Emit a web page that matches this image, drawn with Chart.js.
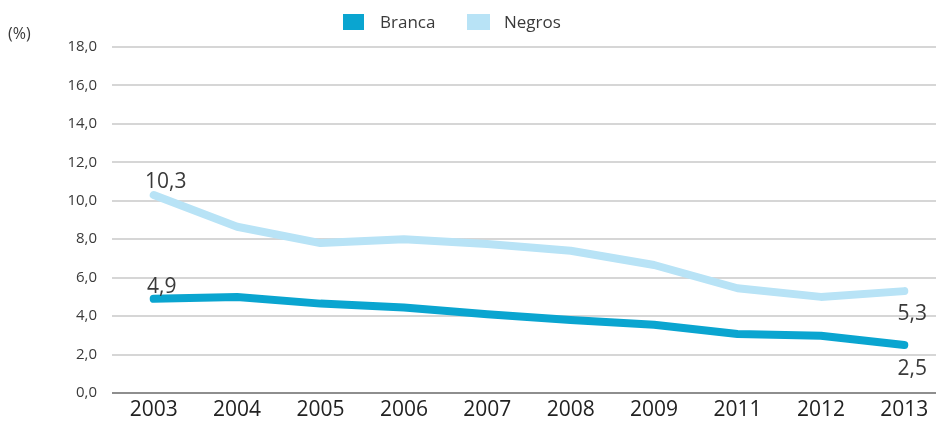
<!DOCTYPE html>
<html>
<head>
<meta charset="utf-8">
<script src="https://cdn.jsdelivr.net/npm/chart.js@4"></script>
<style>
  html, body { margin: 0; padding: 0; background: #fff; overflow: hidden; }
  #wrap { position: relative; width: 946px; height: 424px; }
</style>
</head>
<body>
<div id="wrap"><canvas id="grafico"></canvas></div>
<script>
// dados
const ANOS = ["2003", "2004", "2005", "2006", "2007", "2008", "2009", "2011", "2012", "2013"];
const BRANCA = [4.9, 5.0, 4.65, 4.45, 4.1, 3.8, 3.55, 3.07, 2.98, 2.5];
const NEGROS = [10.3, 8.65, 7.8, 8.0, 7.75, 7.4, 6.66, 5.45, 5.0, 5.3];
const Y_TICKS = [0, 2, 4, 6, 8, 10, 12, 14, 16, 18];

const AZUL = "#0aa5d0";
const CLARO = "#b8e3f6";
const TEXTO = "#3a3a3a";

const fmt = v => v.toFixed(1).replace(".", ",");

// rótulos só no primeiro e no último ponto
const rotulos = {
    id: "rotulos",
    afterDatasetsDraw(chart) {
        const ctx = chart.ctx;
        ctx.save();
        ctx.fillStyle = TEXTO;
        ctx.font = "21px 'Open Sans', sans-serif";
        ctx.textAlign = "center";
        ctx.textBaseline = "middle";
        const ult = ANOS.length - 1;
        const mb = chart.getDatasetMeta(0).data;
        const mn = chart.getDatasetMeta(1).data;
        ctx.fillText(fmt(NEGROS[0]), mn[0].x + 12, mn[0].y - 13);
        ctx.fillText(fmt(BRANCA[0]), mb[0].x + 8, mb[0].y - 12);
        ctx.fillText(fmt(NEGROS[ult]), mn[ult].x + 8, mn[ult].y + 23);
        ctx.fillText(fmt(BRANCA[ult]), mb[ult].x + 8, mb[ult].y + 24);
        ctx.restore();
    }
};

// legenda e "(%)" desenhados à mão
const extras = {
    id: "extras",
    afterDraw(chart) {
        const ctx = chart.ctx;
        ctx.save();
        ctx.textBaseline = "middle";
        ctx.textAlign = "left";
        ctx.font = "17px 'Open Sans', sans-serif";
        ctx.fillStyle = AZUL;
        ctx.fillRect(343, 14, 21, 16);
        ctx.fillStyle = CLARO;
        ctx.fillRect(467, 14, 23, 16);
        ctx.fillStyle = TEXTO;
        ctx.fillText("Branca", 380, 23);
        ctx.fillText("Negros", 504, 23);
        ctx.font = "16px 'Open Sans', sans-serif";
        ctx.fillText("(%)", 8, 34);
        ctx.restore();
    }
};

new Chart(document.getElementById("grafico"), {
    type: "line",
    data: {
        labels: ANOS,
        datasets: [
            { label: "Branca", data: BRANCA, borderColor: AZUL, backgroundColor: AZUL,
              borderWidth: 8, pointRadius: 0, borderCapStyle: "round", borderJoinStyle: "round" },
            { label: "Negros", data: NEGROS, borderColor: CLARO, backgroundColor: CLARO,
              borderWidth: 8, pointRadius: 0, borderCapStyle: "round", borderJoinStyle: "round" },
        ]
    },
    options: {
        responsive: true, maintainAspectRatio: false, animation: false,
        layout: { padding: { top: 47, left: 0, right: 0, bottom: 0 } },
        plugins: { legend: { display: false }, tooltip: { enabled: false } },
        scales: {
            x: {
                offset: true,
                grid: { display: false, drawTicks: false },
                border: { display: false },
                ticks: { color: "#222", font: { family: "'Open Sans', sans-serif", size: 21 }, padding: 4, maxRotation: 0 },
                afterFit: s => { s.height = 31; }
            },
            y: {
                min: 0, max: 18,
                afterBuildTicks: s => { s.ticks = Y_TICKS.map(v => ({ value: v })); },
                grid: {
                    drawTicks: false,
                    lineWidth: 2,
                    color: c => c.tick && c.tick.value === 0 ? "#8e8e8e" : "#d6d6d6"
                },
                border: { display: false },
                ticks: { color: TEXTO, font: { family: "'Open Sans', sans-serif", size: 15 }, padding: 15,
                         callback: v => fmt(v) },
                afterFit: s => { s.width = 112; }
            }
        }
    },
    plugins: [rotulos, extras]
});
</script>
</body>
</html>
